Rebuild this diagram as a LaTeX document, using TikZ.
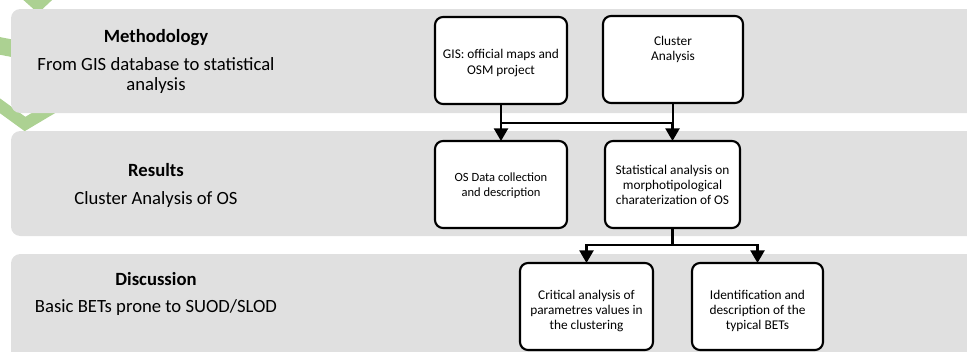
\documentclass[tikz,border=0pt]{standalone}
\usepackage{fontspec}
\setmainfont{Carlito}
\usetikzlibrary{arrows.meta}

\definecolor{panelgray}{RGB}{224,224,224}
\definecolor{chevgreen}{RGB}{172,209,146}

\begin{document}
\begin{tikzpicture}[x=0.75pt, y=-0.75pt]
\tikzset{ >={Triangle[width=10.5pt,length=9.5pt]}, inner sep=0pt, outer sep=0pt,
  panel/.style={fill=panelgray, rounded corners=7pt},
  stepbox/.style={draw=black, line width=1.6pt, fill=white, rounded corners=6pt, minimum height=65.25pt},
  boxtext/.style={font=\fontsize{10}{11.5}\selectfont, align=center, anchor=base},
  headtext/.style={font=\fontsize{14}{15}\selectfont\bfseries, anchor=base},
  subtext/.style={font=\fontsize{14}{15}\selectfont, align=center, anchor=base},
  link/.style={->, line width=1.8pt},
}

\useasboundingbox (0,0) rectangle (967,351);
\clip (0,0) rectangle (967,351);
%\draw [lightgray, dashed] (0,0) grid[step=50] (967,351);

%%% Fundo

% chevrons verdes
\draw [chevgreen, line width=9pt, line join=miter] (10,-20) -- (38,5) -- (70,-25);
\draw [chevgreen, line width=13pt] (-10,44) -- (16,49);
\draw [chevgreen, line width=9pt, line join=miter] (-8,100) -- (25,124) -- (72,96);

% faixas
\fill [panel] (11,9) rectangle (990,113);
\fill [panel] (11,131) rectangle (990,236);
\fill [panel] (11,254) rectangle (990,380);

%%% Textos das faixas (y = linha de base da ultima linha)

% Methodology
\node [headtext] (methH) at (156,42.7) {Methodology};
\node [subtext]  (methT) at (156,90) {From GIS database to statistical\\analysis};

% Results
\node [headtext] (resH) at (156,176) {Results};
\node [subtext]  (resT) at (156,204) {Cluster Analysis of OS};

% Discussion
\node [headtext] (disH) at (156,285) {Discussion};
\node [subtext]  (disT) at (156,312.7) {Basic BETs prone to SUOD/SLOD};

%%% Blocos

% GIS
\node [stepbox, minimum width=99pt] (gis) at (501,60.5) { };
\node [boxtext] (gisT) at (501,74) {GIS: official maps and\\OSM project};

% Cluster
\node [stepbox, minimum width=105pt] (clus) at (673,59.5) { };
\node [boxtext] (clusT) at (673,60.5) {Cluster\\Analysis};

% OS data
\node [stepbox, minimum width=99pt] (osd) at (501,184.5) { };
\node [boxtext, font=\fontsize{9.4}{11.25}\selectfont] (osdT) at (501,196.7) {OS Data collection\\and description};

% Statistical analysis
\node [stepbox, minimum width=101.25pt] (stat) at (672.5,184.5) { };
\node [boxtext, font=\fontsize{10}{11.25}\selectfont] (statT) at (672.5,204.5) {Statistical analysis on\\morphotipological\\charaterization of OS};

% Critical analysis
\node [stepbox, minimum width=99.75pt] (crit) at (586.5,306.5) { };
\node [boxtext, font=\fontsize{10}{11.25}\selectfont] (critT) at (586.5,329) {Critical analysis of\\parametres values in\\the clustering};

% Identification
\node [stepbox, minimum width=98.25pt] (ident) at (757.5,306.5) { };
\node [boxtext, font=\fontsize{10}{11.25}\selectfont] (identT) at (757.5,329) {Identification and\\description of the\\typical BETs};

%%% Linhas

% GIS / Cluster -> OS data / Statistical
\draw [link] (gis.south) -- ++(0,19) -| (stat.north);
\draw [link] (clus.south) -- ++(0,20) -| (osd.north);

% Statistical -> Critical / Identification
\draw [link] (stat.south) -- ++(0,17) -| (crit.north);
\draw [link] (stat.south) -- ++(0,17) -| (ident.north);

\end{tikzpicture}
\end{document}
